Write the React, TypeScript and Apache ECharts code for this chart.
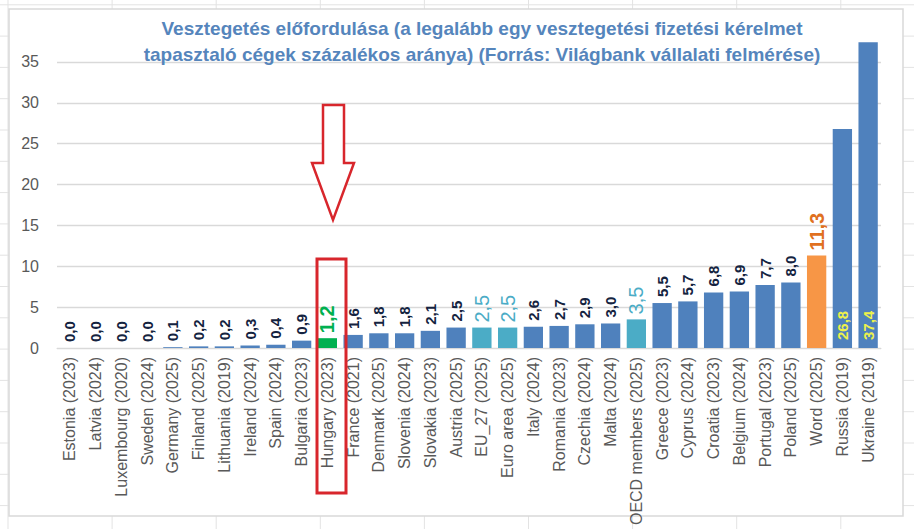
import React, { useEffect, useRef } from "react";
import * as echarts from "echarts";

const categories = [
  "Estonia (2023)", "Latvia (2024)", "Luxembourg (2020)", "Sweden (2024)", "Germany (2025)",
  "Finland (2025)", "Lithuania (2019)", "Ireland (2024)", "Spain (2024)", "Bulgaria (2023)",
  "Hungary (2023)", "France (2021)", "Denmark (2025)", "Slovenia (2024)", "Slovakia (2023)",
  "Austria (2025)", "EU_27 (2025)", "Euro area (2025)", "Italy (2024)", "Romania (2023)",
  "Czechia (2024)", "Malta (2024)", "OECD members (2025)", "Greece (2023)", "Cyprus (2024)",
  "Croatia (2023)", "Belgium (2024)", "Portugal (2023)", "Poland (2025)", "Word (2025)",
  "Russia (2019)", "Ukraine (2019)",
];
const values = [
  0.0, 0.0, 0.0, 0.0, 0.1, 0.2, 0.2, 0.3, 0.4, 0.9,
  1.2, 1.6, 1.8, 1.8, 2.1, 2.5, 2.5, 2.5, 2.6, 2.7,
  2.9, 3.0, 3.5, 5.5, 5.7, 6.8, 6.9, 7.7, 8.0, 11.3,
  26.8, 37.4,
];
const highlightHungary = ["Hungary (2023)"];
const aggregates = ["EU_27 (2025)", "Euro area (2025)", "OECD members (2025)"];
const worldCats = ["Word (2025)"];
const insideLabelCats = ["Russia (2019)", "Ukraine (2019)"];
const yTicks = [0, 5, 10, 15, 20, 25, 30, 35, 40];

const TITLE =
  "Vesztegetés előfordulása (a legalább egy vesztegetési fizetési kérelmet\ntapasztaló cégek százalékos aránya) (Forrás: Világbank vállalati felmérése)";

const BLUE = "#4F81BD";
const TEAL = "#4BACC6";
const GREEN = "#00B050";
const ORANGE = "#F79646";
const RED = "#D8262C";
const FONT = "'Liberation Sans', Arial, sans-serif";

const fmt = (v: number) => v.toFixed(1).replace(".", ",");

export default function App() {
  const ref = useRef<HTMLDivElement>(null);
  useEffect(() => {
    if (!ref.current) return;
    const chart = echarts.init(ref.current, null, { renderer: "svg" });

    const data = values.map((v, i) => {
      const c = categories[i];
      let color = BLUE;
      let label: any = {
        show: true,
        position: "top",
        rotate: 90,
        align: "left",
        verticalAlign: "middle",
        distance: 6,
        formatter: () => fmt(v),
        color: "#142340",
        fontWeight: "bold",
        fontSize: 15,
        fontFamily: FONT,
      };
      if (highlightHungary.includes(c)) {
        color = GREEN;
        label = { ...label, color: GREEN, fontSize: 20, distance: 5 };
      } else if (aggregates.includes(c)) {
        color = TEAL;
        label = { ...label, color: TEAL, fontSize: 20, fontWeight: "normal", distance: 5 };
      } else if (worldCats.includes(c)) {
        color = ORANGE;
        label = { ...label, color: "#E07020", fontSize: 20, distance: 5 };
      } else if (insideLabelCats.includes(c)) {
        label = { ...label, position: "insideBottom", color: "#EEF24A", fontSize: 15, distance: 8 };
      }
      return { value: v, itemStyle: { color }, label };
    });

    // spreadsheet grid lines behind the chart frame
    const bg: any[] = [];
    for (let k = 0; k < 18; k++) {
      const y = 4.8 + 31.3 * k;
      bg.push({ type: "line", z: -20, silent: true, shape: { x1: 0, y1: y, x2: 914, y2: y }, style: { stroke: "#E3E3E3", lineWidth: 1 } });
    }
    for (let k = 0; k < 10; k++) {
      const x = 8 + 104.1 * k;
      bg.push({ type: "line", z: -20, silent: true, shape: { x1: x, y1: 0, x2: x, y2: 529 }, style: { stroke: "#E3E3E3", lineWidth: 1 } });
    }

    chart.setOption({
      animation: false,
      backgroundColor: "#ffffff",
      grid: { left: 57, right: 33, top: 21, bottom: 181, containLabel: false },
      xAxis: {
        type: "category",
        data: categories,
        axisTick: { show: false },
        axisLine: { lineStyle: { color: "#D9D9D9", width: 1 } },
        axisLabel: {
          rotate: 90,
          interval: 0,
          margin: 9,
          color: "#595959",
          fontSize: 16,
          fontFamily: FONT,
        },
      },
      yAxis: {
        type: "value",
        min: yTicks[0],
        max: yTicks[yTicks.length - 1],
        interval: yTicks[1] - yTicks[0],
        axisLine: { show: false },
        axisTick: { show: false },
        axisLabel: {
          showMaxLabel: false,
          color: "#595959",
          fontSize: 16,
          fontFamily: FONT,
          margin: 18,
        },
        splitLine: { showMaxLine: false, lineStyle: { color: "#D9D9D9", width: 1.3 } },
      },
      series: [
        {
          type: "bar",
          data,
          barCategoryGap: "25%",
          z: 3,
        },
      ],
      graphic: [
        ...bg,
        {
          type: "rect",
          z: -10,
          silent: true,
          shape: { x: 9, y: 9, width: 894, height: 507 },
          style: { fill: "#ffffff", stroke: "#D9D9D9", lineWidth: 1.5 },
        },
        {
          type: "text",
          z: 50,
          silent: true,
          x: 482,
          y: 15,
          style: {
            text: TITLE,
            align: "center",
            verticalAlign: "top",
            fill: "#5585BC",
            font: `bold 19px ${FONT}`,
            lineHeight: 26,
          },
        },
        {
          type: "polygon",
          z: 100,
          silent: true,
          shape: {
            points: [
              [323, 105], [344, 105], [344, 163], [354, 163],
              [333, 220], [312, 163], [323, 163],
            ],
          },
          style: { fill: "#ffffff", stroke: RED, lineWidth: 2.5 },
        },
        {
          type: "rect",
          z: 100,
          silent: true,
          shape: { x: 317, y: 259, width: 29, height: 234 },
          style: { fill: "none", stroke: RED, lineWidth: 3 },
        },
      ],
    });
    return () => chart.dispose();
  }, []);
  return (
    <div
      ref={ref}
      style={{ position: "fixed", left: 0, top: 0, width: 914, height: 529 }}
    />
  );
}
